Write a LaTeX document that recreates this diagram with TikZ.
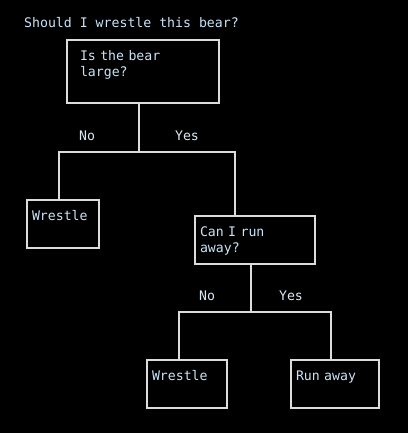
\documentclass[tikz,border=0pt]{standalone}
\usepackage{fontspec}
\setmonofont{DejaVu Sans Mono}
\definecolor{ink}{HTML}{C8E4F8}
\definecolor{labelink}{HTML}{DCE8F2}
\definecolor{linegray}{HTML}{DCDCDC}

\begin{document}
\begin{tikzpicture}[x=1pt, y=-1pt,
    every node/.style={font=\ttfamily\fontsize{13.2}{16}\selectfont},
    box/.style={draw=linegray, line width=2pt, outer sep=0pt, inner xsep=5pt, inner ysep=0pt,
      anchor=north west, align=left, text=ink, text height=20pt, text depth=28pt},
    lbl/.style={text=labelink, anchor=base, inner sep=0pt},
    link/.style={draw=linegray, line width=2pt}]
    \fill[black] (0,0) rectangle (408,433);
    \useasboundingbox (0,0) rectangle (408,433);
    \node[lbl, text=ink, anchor=base west] (title) at (24,28) {Should I wrestle this bear?};
    % boxes
    \node[box, text width=126pt, inner xsep=13pt, text height=21pt, text depth=42pt] (large) at (67,40) {Is the bear\\large?};
    \node[box, text width=62pt] (wrestleA) at (27,200) {Wrestle};
    \node[box, text width=110pt] (runq) at (195,216) {Can I run\\away?};
    \node[box, text width=70pt] (wrestleB) at (147,360) {Wrestle};
    \node[box, text width=78pt] (runaway) at (291,360) {Run away};
    % branch points
    \coordinate (splitA) at (139,152);
    \coordinate (leftA) at (59,152);
    \coordinate (rightA) at (235,152);
    \coordinate (splitB) at (251,312);
    \coordinate (leftB) at (179,312);
    \coordinate (rightB) at (331,312);
    \draw[link] (large.south -| splitA) -- (splitA);
    \draw[link] (wrestleA.north -| leftA) -- (leftA) -- (rightA) -- (runq.north -| rightA);
    \draw[link] (runq.south -| splitB) -- (splitB);
    \draw[link] (wrestleB.north -| leftB) -- (leftB) -- (rightB) -- (runaway.north -| rightB);
    % answers
    \node[lbl] (noA) at (87,140) {No};
    \node[lbl] (yesA) at (187,140) {Yes};
    \node[lbl] (noB) at (207,300) {No};
    \node[lbl] (yesB) at (291,300) {Yes};
\end{tikzpicture}
\end{document}
